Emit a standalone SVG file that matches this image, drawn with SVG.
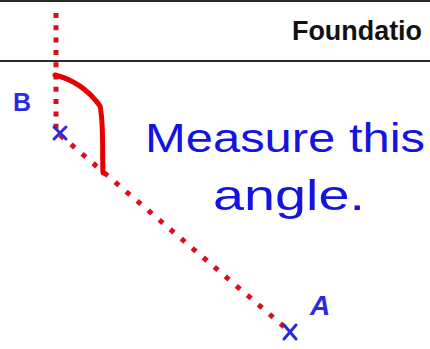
<svg xmlns="http://www.w3.org/2000/svg" width="430" height="349" viewBox="0 0 430 349">
<style>
.rule{stroke:#2a2a2a;stroke-width:2;fill:none}
.dot{stroke:#d8101e;stroke-width:5;fill:none}
.cross{stroke:#2a2ae0;stroke-width:3;stroke-linecap:round;fill:none}
.lbl{font-family:"Liberation Sans",Arial,sans-serif;font-weight:bold;fill:#2a2ae0}
.hand{font-family:"Liberation Sans",Arial,sans-serif;fill:#1414e0}
</style>
<rect width="430" height="349" fill="#ffffff"/>
<g id="header">
<line class="rule" x1="0" y1="1" x2="430" y2="1"/>
<line class="rule" x1="0" y1="61" x2="430" y2="61"/>
<text x="292" y="40" font-family="'Liberation Sans',Arial,sans-serif" font-weight="bold" font-size="28" fill="#111" textLength="130" lengthAdjust="spacingAndGlyphs">Foundatio</text>
</g>
<g id="connectors">
<line class="dot" x1="56" y1="13" x2="56" y2="132" stroke-dasharray="5 7.3"/>
<line class="dot" x1="60" y1="135" x2="288" y2="330" stroke-dasharray="5 9.5"/>
<path d="M55,75 C75,80 90,92 100,106 C104,125 102,150 103,173" stroke="#e80000" stroke-width="5" fill="none" stroke-linecap="round"/>
</g>
<g id="node-B">
<path class="cross" d="M54,127 L66,139 M66,127 L54,139"/>
<text class="lbl" x="13" y="111" font-size="25">B</text>
</g>
<g id="node-A">
<path class="cross" d="M284,325 L296,339 M296,325 L284,339"/>
<text class="lbl" x="310" y="315" font-size="28" font-style="italic">A</text>
</g>
<g id="note">
<text class="hand" x="145" y="152" font-size="40" textLength="280" lengthAdjust="spacingAndGlyphs">Measure this</text>
<text class="hand" x="213" y="210" font-size="42" textLength="152" lengthAdjust="spacingAndGlyphs">angle.</text>
</g>
</svg>
